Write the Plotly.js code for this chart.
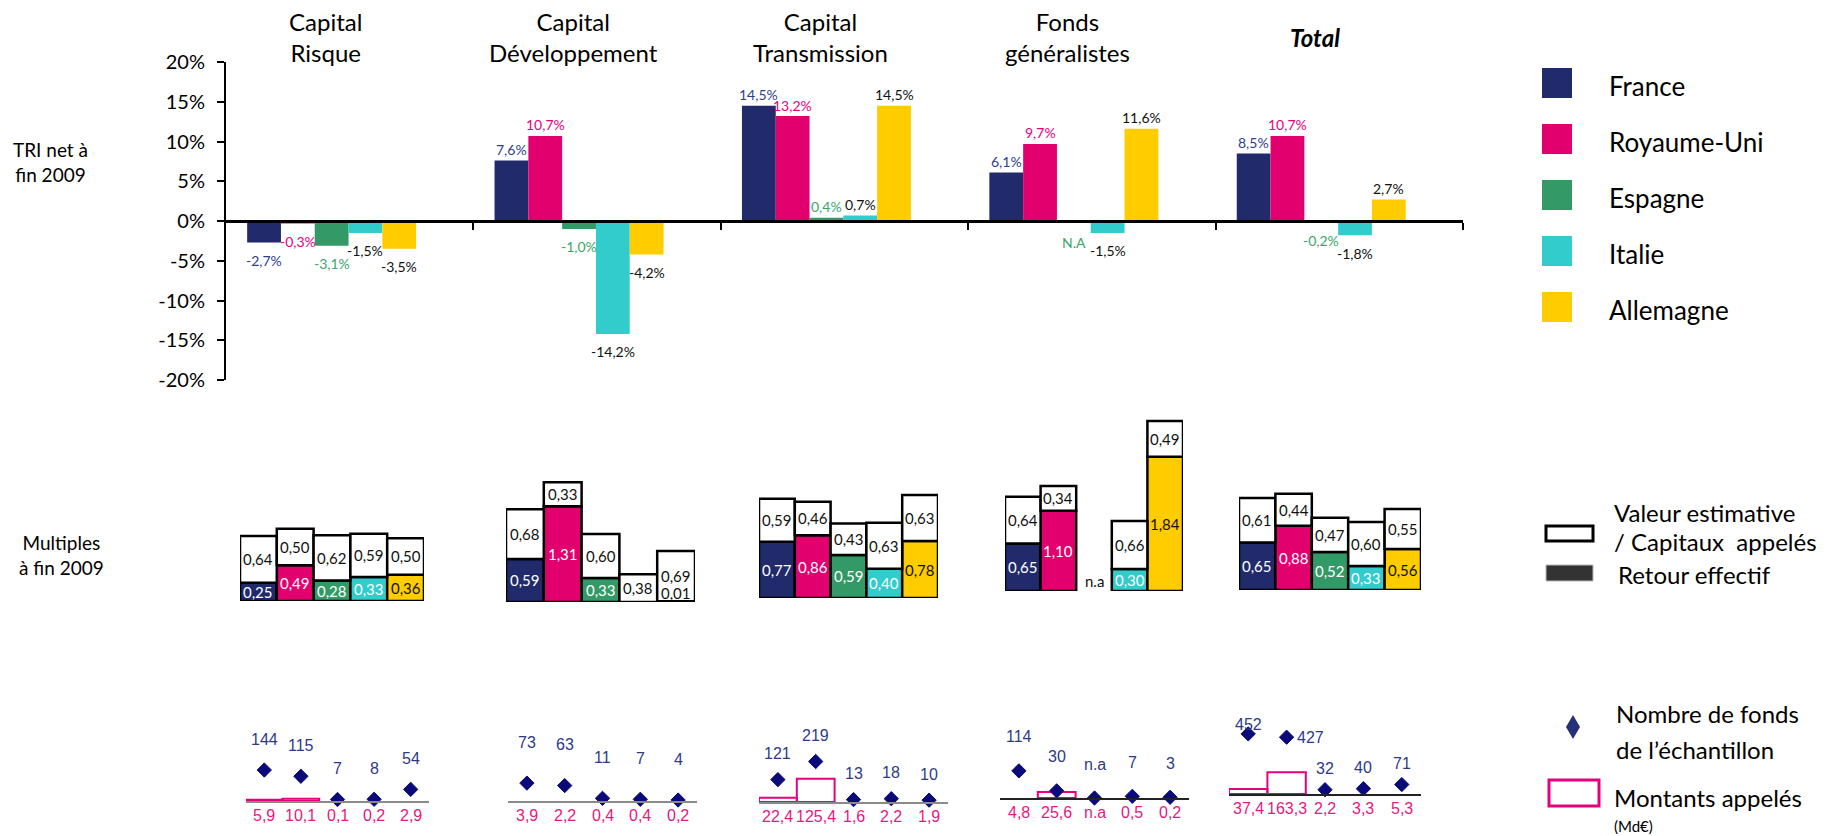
<!DOCTYPE html>
<html><head><meta charset="utf-8">
<script src="https://cdn.plot.ly/plotly-3.0.1.min.js"></script>
<style>html,body{margin:0;padding:0;background:#fff}#chart{width:1843px;height:836px}</style>
</head><body><div id="chart"></div>
<script>
// ---------------- DATA ----------------
const categories = ['Capital<br>Risque', 'Capital<br>Développement', 'Capital<br>Transmission', 'Fonds<br>généralistes', '<b><i>Total</i></b>'];
const countries = ['France', 'Royaume-Uni', 'Espagne', 'Italie', 'Allemagne'];

// TRI net à fin 2009 (%), per country, in category order
const triFrance    = [-2.7, 7.6, 14.5, 6.1, 8.5];
const triRoyaumeUni= [-0.3, 10.7, 13.2, 9.7, 10.7];
const triEspagne   = [-3.1, -1.0, 0.4, null, -0.2];
const triItalie    = [-1.5, -14.2, 0.7, -1.5, -1.8];
const triAllemagne = [-3.5, -4.2, 14.5, 11.6, 2.7];

const yTickVals = [-20, -15, -10, -5, 0, 5, 10, 15, 20];
const yTickText = ['-20%', '-15%', '-10%', '-5%', '0%', '5%', '10%', '15%', '20%'];

// Multiples à fin 2009 : retour effectif / valeur estimative, per category (countries in order)
const retourRisque = [0.25, 0.49, 0.28, 0.33, 0.36];
const retourDev    = [0.59, 1.31, 0.33, null, 0.01];
const retourTrans  = [0.77, 0.86, 0.59, 0.40, 0.78];
const retourGen    = [0.65, 1.10, null, 0.30, 1.84];
const retourTotal  = [0.65, 0.88, 0.52, 0.33, 0.56];

const valeurRisque = [0.64, 0.50, 0.62, 0.59, 0.50];
const valeurDev    = [0.68, 0.33, 0.60, 0.38, 0.69];
const valeurTrans  = [0.59, 0.46, 0.43, 0.63, 0.63];
const valeurGen    = [0.64, 0.34, null, 0.66, 0.49];
const valeurTotal  = [0.61, 0.44, 0.47, 0.60, 0.55];

// Nombre de fonds de l'échantillon
const fondsRisque = [144, 115, 7, 8, 54];
const fondsDev    = [73, 63, 11, 7, 4];
const fondsTrans  = [121, 219, 13, 18, 10];
const fondsGen    = [114, 30, null, 7, 3];
const fondsTotal  = [452, 427, 32, 40, 71];

// Montants appelés (Md€)
const montantsRisque = [5.9, 10.1, 0.1, 0.2, 2.9];
const montantsDev    = [3.9, 2.2, 0.4, 0.4, 0.2];
const montantsTrans  = [22.4, 125.4, 1.6, 2.2, 1.9];
const montantsGen    = [4.8, 25.6, null, 0.5, 0.2];
const montantsTotal  = [37.4, 163.3, 2.2, 3.3, 5.3];

// ---------------- STYLE / LAYOUT ----------------
const W = 1843, H = 836;
const fx = p => p / W;
const fy = p => 1 - p / H;
const countryColors = ['#212b6b', '#e2006f', '#339966', '#33cccc', '#ffcc00'];
const labelColors   = ['#2f3d8e', '#e6007e', '#3aa66a', '#111111', '#111111'];
const retourTextColors = ['#ffffff', '#ffffff', '#ffffff', '#ffffff', '#111111'];
const FONT = 'Lato, "Open Sans", sans-serif';
const NUMFONT = '"Liberation Sans", Arial, sans-serif';

const tri = [triFrance, triRoyaumeUni, triEspagne, triItalie, triAllemagne];
const retour = [retourRisque, retourDev, retourTrans, retourGen, retourTotal];
const valeur = [valeurRisque, valeurDev, valeurTrans, valeurGen, valeurTotal];
const fonds = [fondsRisque, fondsDev, fondsTrans, fondsGen, fondsTotal];
const montants = [montantsRisque, montantsDev, montantsTrans, montantsGen, montantsTotal];

const fmt1 = v => v.toFixed(1).replace('.', ',');
const fmt2 = v => v.toFixed(2).replace('.', ',');
const idx = [0, 1, 2, 3, 4];

// Panel geometry (pixels)
const topX = [226, 1463], topY = [62, 380];
const barW = 0.1366, groupStart = -0.4145;
const multX = [[240, 424], [506, 695], [759, 938], [1005, 1183], [1239, 1421]];
const multBase = [601, 602, 598, 591, 590];
const multTop = 400, multScale = 73;       // px per unit
const botX = [[246, 429], [508, 697], [759, 948], [1000, 1189], [1229, 1421]];
const botBase = [801, 801, 802, 798, 794];
const botTop = 700;
const botScale = [0.215, 0.245, 0.185, 0.238, 0.133]; // px per unit
const botLabelShift = [31, 41, 26, 34, 21];
const botLineColor = ['#8a8a8a', '#8a8a8a', '#8a8a8a', '#222222', '#222222'];
// label placement tweaks for the crowded "Total" counts: [xshift, yshift] for large counts
const bigCountShift = {452: [0, 9], 427: [8, 0]};

const traces = [];
const annotations = [];
const shapes = [];

// ---- Top chart: TRI ----
tri.forEach((vals, k) => {
  traces.push({
    type: 'bar', x: idx, y: vals, xaxis: 'x', yaxis: 'y',
    width: barW, offset: groupStart + k * barW,
    marker: {color: countryColors[k], line: {width: 0}},
    name: countries[k], hoverinfo: 'skip', showlegend: false
  });
  vals.forEach((v, i) => {
    const xc = i + groupStart + k * barW + barW / 2;
    annotations.push({
      xref: 'x', yref: 'y', x: xc, y: v == null ? 0 : v,
      text: v == null ? 'N.A' : fmt1(v) + '%',
      showarrow: false, yanchor: 'middle',
      yshift: v == null ? -21 : (v >= 0 ? 11 : -18),
      font: {family: FONT, size: 14, color: labelColors[k]}
    });
  });
});

// Category titles
categories.forEach((c, i) => {
  annotations.push({
    xref: 'x', yref: 'paper', x: i, xshift: -24, y: fy(37), yanchor: 'middle',
    text: c, showarrow: false, font: {family: FONT, size: 24, color: '#000'}
  });
});

const layout = {
  width: W, height: H, margin: {l: 0, r: 0, t: 0, b: 0},
  paper_bgcolor: '#fff', plot_bgcolor: 'rgba(0,0,0,0)',
  barmode: 'overlay', showlegend: false, hovermode: false,
  xaxis: {
    domain: [fx(topX[0]), fx(topX[1])], range: [-0.5, 4.5],
    anchor: 'free', position: (fy(topY[1]) + fy(topY[0])) / 2,
    showline: true, linecolor: '#000', linewidth: 2.5,
    tickvals: [0.5, 1.5, 2.5, 3.5, 4.5], ticks: 'outside', ticklen: 7, tickwidth: 2, tickcolor: '#000',
    showticklabels: false, showgrid: false, zeroline: false, fixedrange: true
  },
  yaxis: {
    domain: [fy(topY[1]), fy(topY[0])], range: [-20, 20], anchor: 'x',
    showline: true, linecolor: '#000', linewidth: 2,
    tickvals: yTickVals, ticktext: yTickText, ticks: 'outside', ticklen: 7, tickwidth: 2, tickcolor: '#000',
    ticklabelstandoff: 8,
    tickfont: {family: FONT, size: 20, color: '#000'},
    showgrid: false, zeroline: false, fixedrange: true
  }
};

// ---- Multiples ----
for (let g = 0; g < 5; g++) {
  const ax = 2 + g;
  const base = retour[g].map(v => v == null ? 0 : v);
  traces.push({
    type: 'bar', x: idx, y: retour[g], width: 1, xaxis: 'x' + ax, yaxis: 'y' + ax,
    marker: {color: countryColors, line: {color: '#000', width: 2.5}}, hoverinfo: 'skip'
  });
  traces.push({
    type: 'bar', x: idx, y: valeur[g], base: base, width: 1, xaxis: 'x' + ax, yaxis: 'y' + ax,
    marker: {color: '#ffffff', line: {color: '#000', width: 2.5}}, hoverinfo: 'skip'
  });
  layout['xaxis' + ax] = {domain: [fx(multX[g][0]), fx(multX[g][1])], range: [-0.5, 4.5], anchor: 'y' + ax, visible: false, fixedrange: true};
  layout['yaxis' + ax] = {domain: [fy(multBase[g]), fy(multTop)], range: [0, (multBase[g] - multTop) / multScale], anchor: 'x' + ax, visible: false, fixedrange: true};
  idx.forEach(i => {
    const r = retour[g][i], v = valeur[g][i];
    if (r == null && v == null) {
      annotations.push({xref: 'x' + ax, yref: 'y' + ax, x: i, y: 0.14, text: 'n.a', showarrow: false,
        font: {family: FONT, size: 15, color: '#111'}});
      return;
    }
    if (r != null) {
      annotations.push({xref: 'x' + ax, yref: 'y' + ax, x: i, y: Math.max(r / 2, 0.12), text: fmt2(r), showarrow: false,
        font: {family: FONT, size: 15, color: retourTextColors[i]}});
    }
    if (v != null) {
      annotations.push({xref: 'x' + ax, yref: 'y' + ax, x: i, y: base[i] + v / 2, text: fmt2(v), showarrow: false,
        font: {family: FONT, size: 15, color: '#111'}});
    }
  });
}

// ---- Bottom: montants appelés + nombre de fonds ----
for (let g = 0; g < 5; g++) {
  const ax = 7 + g;
  // outline only drawn when the rectangle is tall enough to be seen (as in the original)
  const lineW = montants[g].map(v => (v != null && v * botScale[g] >= 1.2) ? 2 : 0);
  traces.push({
    type: 'bar', x: idx, y: montants[g], width: 1, xaxis: 'x' + ax, yaxis: 'y' + ax,
    marker: {color: 'rgba(255,255,255,0)', line: {color: '#e6007e', width: lineW}}, hoverinfo: 'skip'
  });
  traces.push({
    type: 'scatter', mode: 'markers', x: idx, y: fonds[g].map(v => v == null ? 0 : v),
    xaxis: 'x' + ax, yaxis: 'y' + ax, cliponaxis: false,
    marker: {symbol: 'diamond', size: 11, color: '#0a0a78', line: {color: '#0a0a78', width: 1}}, hoverinfo: 'skip'
  });
  layout['xaxis' + ax] = {domain: [fx(botX[g][0]), fx(botX[g][1])], range: [-0.5, 4.5], anchor: 'y' + ax,
    showline: true, linecolor: botLineColor[g], linewidth: 2, showticklabels: false, ticks: '',
    showgrid: false, zeroline: false, fixedrange: true};
  layout['yaxis' + ax] = {domain: [fy(botBase[g]), fy(botTop)], range: [0, (botBase[g] - botTop) / botScale[g]], anchor: 'x' + ax, visible: false, fixedrange: true};
  idx.forEach(i => {
    const f = fonds[g][i], m = montants[g][i];
    const sh = (f != null && bigCountShift[f] && g === 4) ? bigCountShift[f] : [0, botLabelShift[g]];
    annotations.push({xref: 'x' + ax, yref: 'y' + ax, x: i, y: f == null ? 0 : f,
      xshift: sh[0], yshift: sh[1], xanchor: sh[0] > 0 ? 'left' : 'center',
      text: f == null ? 'n.a' : String(f), showarrow: false,
      font: {family: NUMFONT, size: 16, color: '#2e3a87'}});
    annotations.push({xref: 'x' + ax, yref: 'y' + ax, x: i, y: 0, yshift: -14,
      text: m == null ? 'n.a' : fmt1(m), showarrow: false,
      font: {family: NUMFONT, size: 16, color: '#e8177f'}});
  });
}

// ---- Side labels ----
const sideText = (x, y, text, size, anchor) => annotations.push({
  xref: 'paper', yref: 'paper', x: fx(x), y: fy(y), xanchor: anchor || 'left', yanchor: 'middle',
  text: text, showarrow: false, align: anchor === 'center' ? 'center' : 'left',
  font: {family: FONT, size: size, color: '#000'}
});
sideText(50, 162, 'TRI net à<br>fin 2009', 19, 'center');
sideText(61, 555, 'Multiples<br>à fin 2009', 19, 'center');

// Legend 1 : countries
const legTops = [68, 124, 180, 236, 292];
countries.forEach((c, k) => {
  shapes.push({type: 'rect', xref: 'paper', yref: 'paper', x0: fx(1542), x1: fx(1572), y0: fy(legTops[k] + 30), y1: fy(legTops[k]),
    fillcolor: countryColors[k], line: {width: 0}});
  sideText(1607, legTops[k] + 18, c, 26);
});

// Legend 2 : multiples
shapes.push({type: 'rect', xref: 'paper', yref: 'paper', x0: fx(1546), x1: fx(1593), y0: fy(541), y1: fy(526),
  fillcolor: '#fff', line: {color: '#000', width: 3}});
shapes.push({type: 'rect', xref: 'paper', yref: 'paper', x0: fx(1546), x1: fx(1593), y0: fy(581), y1: fy(565),
  fillcolor: '#333333', line: {color: '#bbbbbb', width: 1}});
sideText(1612, 512, 'Valeur estimative', 24);
sideText(1612, 541, '/ Capitaux  appelés', 24);
sideText(1616, 574, 'Retour effectif', 24);

// Legend 3 : fonds / montants
shapes.push({type: 'path', xref: 'paper', yref: 'paper',
  path: `M${fx(1573)},${fy(715)} L${fx(1580)},${fy(727)} L${fx(1573)},${fy(739)} L${fx(1566)},${fy(727)} Z`,
  fillcolor: '#263079', line: {width: 0}});
sideText(1614, 713, 'Nombre de fonds', 24);
sideText(1614, 749, 'de l’échantillon', 24);
shapes.push({type: 'rect', xref: 'paper', yref: 'paper', x0: fx(1549), x1: fx(1599), y0: fy(806), y1: fy(780),
  fillcolor: '#fff', line: {color: '#e6007e', width: 3}});
sideText(1612, 797, 'Montants appelés', 24);
sideText(1612, 826, '(Md€)', 15);

layout.annotations = annotations;
layout.shapes = shapes;

Plotly.newPlot('chart', traces, layout, {staticPlot: true, displayModeBar: false});
</script>
</body></html>
